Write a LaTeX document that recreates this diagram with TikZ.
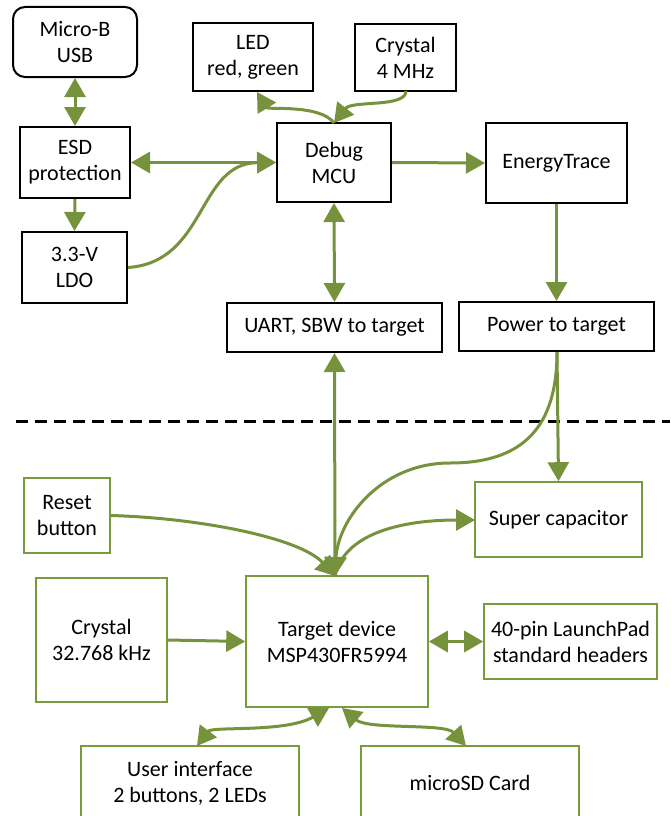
\documentclass[tikz,border=0pt]{standalone}
\usepackage{fontspec}
\setmainfont{Carlito}
\usetikzlibrary{arrows.meta}
\definecolor{arrc}{HTML}{76923C}
\definecolor{grnc}{HTML}{7A9A3E}
\tikzset{
  tiphead/.tip={Triangle[length=19pt,width=21pt]},
  blk/.style={draw=black, line width=2pt, align=center, inner sep=0pt},
  grn/.style={draw=grnc, line width=1.6pt, align=center, inner sep=0pt},
  conn/.style={draw=arrc, line width=3pt, -tiphead},
  dbl/.style={draw=arrc, line width=3pt, tiphead-tiphead},
  sep/.style={draw=black, line width=3pt, dash pattern=on 12pt off 7pt}}
\begin{document}
\begin{tikzpicture}[x=1pt,y=-1pt, font=\fontsize{22}{26}\selectfont]
\useasboundingbox (0,0) rectangle (670,816);
% top (debug) section
\node[blk, rounded corners=12pt, minimum width=124pt, minimum height=70pt] (usb) at (75,42) {Micro-B\\USB};
\node[blk, minimum width=120pt, minimum height=68pt] (led) at (253,57) {LED\\red, green};
\node[blk, minimum width=101pt, minimum height=67pt] (xt4) at (405.5,57.5) {Crystal\\4 MHz};
\node[blk, minimum width=110pt, minimum height=71pt] (esd) at (75,162.5) {ESD\\protection};
\node[blk, minimum width=105pt, minimum height=71pt] (ldo) at (74.5,267.5) {3.3-V\\LDO};
\node[blk, minimum width=114pt, minimum height=79pt] (mcu) at (334,162.5) {Debug\\MCU};
\node[blk, minimum width=141pt, minimum height=80pt] (et) at (556.5,163) {EnergyTrace};
\node[blk, minimum width=215pt, minimum height=49pt] (uart) at (334.5,327.5) {UART, SBW to target};
\node[blk, minimum width=195pt, minimum height=49pt] (pwr) at (556.5,326.5) {Power to target};
% separator
\coordinate (s1) at (16,421);
\coordinate (s2) at (670,421);
\draw[sep] (s1) -- (s2);
% bottom (target) section
\node[grn, minimum width=167pt, minimum height=75pt] (scap) at (558.5,519.5) {Super capacitor};
\node[grn, minimum width=86pt, minimum height=75pt] (rst) at (67,515.5) {Reset\\button};
\node[grn, minimum width=131pt, minimum height=124pt] (xt32) at (101.5,640) {Crystal\\32.768 kHz};
\node[grn, minimum width=182pt, minimum height=131pt] (tgt) at (337,641.5) {Target device\\MSP430FR5994};
\node[grn, minimum width=173pt, minimum height=75pt] (hdr) at (570.5,641.5) {40-pin LaunchPad\\standard headers};
\node[grn, minimum width=218pt, minimum height=74pt] (ui) at (190,783) {User interface\\2 buttons, 2 LEDs};
\node[grn, minimum width=218pt, minimum height=74pt] (sd) at (470,783) {microSD Card};
% named attachment points
\coordinate (mcutop) at (334,123);
\coordinate (ledbot) at (257,92);
\coordinate (xt4bot) at (406,91);
\coordinate (tgttop) at (335,576);
\coordinate (tgtbl) at (329,708);
\coordinate (tgtbr) at (342,708);
\coordinate (uitop) at (197,746);
\coordinate (sdtop) at (466,746);
\coordinate (pwrbot) at (557,352);
\coordinate (scapw) at (475,520);
% connectors
\draw[dbl] (usb.south) -- (esd.north);
\draw[conn] (esd.south) -- (ldo.north);
\draw[dbl] (esd.east) -- (mcu.west);
\draw[conn] (ldo.east) .. controls (207,262) and (197,163) .. (mcu.west);
\draw[conn] (mcutop) .. controls (320,104) and (268,110) .. (ledbot);
\draw[conn] (xt4bot) .. controls (406,108) and (352,100) .. (mcutop);
\draw[conn] (mcu.east) -- (et.west);
\draw[conn] (et.south) -- (pwr.north);
\draw[dbl] (mcu.south) -- (uart.north);
\draw[dbl] (uart.south) -- (tgttop);
\draw[conn] (pwrbot) -- (scap.north);
\draw[conn] (pwrbot) .. controls (557,425) and (525,463) .. (450,463) .. controls (380,463) and (338,520) .. (tgttop);
\draw[conn] (tgttop) .. controls (345,530) and (410,520) .. (scapw);
\draw[conn] (rst.east) .. controls (200,518) and (300,538) .. (tgttop);
\draw[conn] (xt32.east) -- (tgt.west);
\draw[dbl] (tgt.east) -- (hdr.west);
\draw[dbl] (uitop) .. controls (212,726) and (285,733) .. (tgtbl);
\draw[dbl] (tgtbr) .. controls (368,730) and (445,723) .. (sdtop);
\end{tikzpicture}
\end{document}
